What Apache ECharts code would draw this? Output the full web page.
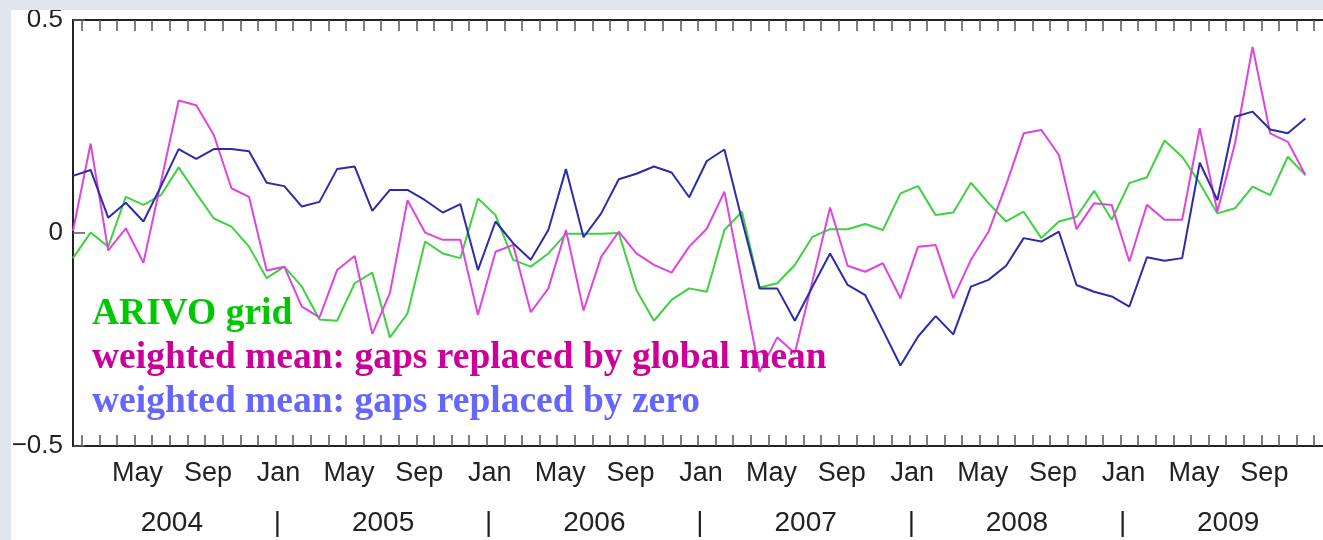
<!DOCTYPE html>
<html>
<head>
<meta charset="utf-8">
<script src="https://cdn.jsdelivr.net/npm/echarts@6/dist/echarts.min.js"></script>
<style>
html,body{margin:0;padding:0;background:#dfe6ee;}
#chart{width:1323px;height:540px;}
</style>
</head>
<body>
<div id="chart"></div>
<script>
// Monthly series, Jan 2004 (index 0) .. Nov 2009 (index 70)
const startYear = 2004;
const monthNames = ['Jan','Feb','Mar','Apr','May','Jun','Jul','Aug','Sep','Oct','Nov','Dec'];
const monthTickLabels = ['May','Sep','Jan'];
const yearLabels = ['2004','2005','2006','2007','2008','2009'];
const yTickValues = [-0.5, 0, 0.5];

const arivoGrid = [
 -0.059, 0.001, -0.032, 0.085, 0.066, 0.089, 0.154, 0.093, 0.034, 0.015, -0.032, -0.106,
 -0.079, -0.126, -0.203, -0.206, -0.118, -0.093, -0.245, -0.189, -0.020, -0.048, -0.059, 0.081,
 0.042, -0.063, -0.079, -0.048, -0.002, -0.002, -0.002, 0.000, -0.134, -0.206, -0.157, -0.130,
 -0.138, 0.007, 0.050, -0.128, -0.118, -0.075, -0.009, 0.009, 0.009, 0.021, 0.007, 0.093,
 0.110, 0.042, 0.048, 0.118, 0.070, 0.027, 0.050, -0.012, 0.027, 0.038, 0.099, 0.031,
 0.117, 0.131, 0.217, 0.179, 0.117, 0.046, 0.058, 0.109, 0.089, 0.179, 0.136
];
const gapsGlobalMean = [
 0.005, 0.210, -0.041, 0.011, -0.070, 0.120, 0.311, 0.300, 0.230, 0.105, 0.085, -0.088,
 -0.079, -0.173, -0.198, -0.087, -0.054, -0.237, -0.141, 0.077, 0.001, -0.016, -0.016, -0.192,
 -0.044, -0.028, -0.186, -0.130, 0.007, -0.182, -0.056, 0.003, -0.048, -0.075, -0.093, -0.032,
 0.010, 0.097, -0.114, -0.326, -0.245, -0.282, -0.113, 0.060, -0.077, -0.091, -0.071, -0.153,
 -0.032, -0.028, -0.153, -0.063, 0.003, 0.113, 0.234, 0.242, 0.183, 0.009, 0.070, 0.066,
 -0.067, 0.066, 0.031, 0.031, 0.246, 0.050, 0.210, 0.437, 0.234, 0.214, 0.136
];
const gapsZero = [
 0.134, 0.148, 0.036, 0.071, 0.027, 0.110, 0.197, 0.174, 0.197, 0.197, 0.192, 0.118,
 0.110, 0.062, 0.073, 0.150, 0.156, 0.052, 0.101, 0.101, 0.077, 0.048, 0.068, -0.087,
 0.027, -0.024, -0.063, 0.007, 0.150, -0.010, 0.046, 0.126, 0.139, 0.156, 0.142, 0.084,
 0.169, 0.196, 0.030, -0.130, -0.130, -0.206, -0.126, -0.048, -0.122, -0.146, -0.228, -0.311,
 -0.243, -0.195, -0.238, -0.126, -0.110, -0.077, -0.012, -0.020, 0.003, -0.122, -0.138, -0.149,
 -0.173, -0.057, -0.065, -0.059, 0.165, 0.077, 0.273, 0.285, 0.243, 0.234, 0.269
];

const seriesNames = ['ARIVO grid', 'weighted mean: gaps replaced by global mean', 'weighted mean: gaps replaced by zero'];
const lineColors = ['#3fd13f', '#de45de', '#2c2ca8'];
const legendColors = ['#00c800', '#cc0099', '#6666ff'];

// axis positions: data point i at x = i (mid-month); month starts at i - 0.5
const nMonths = 72;
const monthStarts = [];
for (let m = 1; m < nMonths; m++) monthStarts.push(m - 0.5);
const labelStarts = monthStarts.filter(v => monthTickLabels.includes(monthNames[(v + 0.5) % 12]));
const yearCenters = yearLabels.map((y, k) => k * 12 + 5.5);
const yearSeps = yearLabels.slice(1).map((y, k) => (k + 1) * 12 - 0.5);
const yearAxisValues = yearCenters.concat(yearSeps).sort((a, b) => a - b);

function toPairs(arr) { return arr.map((v, i) => [i, v]); }

const sansFont = '"Liberation Sans", Arial, sans-serif';
const chart = echarts.init(document.getElementById('chart'), null, {renderer: 'canvas'});

const commonX = {
  type: 'value', min: 0, max: nMonths - 1, gridIndex: 0,
  splitLine: {show: false}
};

chart.setOption({
  backgroundColor: '#ffffff',
  animation: false,
  graphic: [
    {type: 'rect', shape: {x: 0, y: 0, width: 1323, height: 10}, style: {fill: '#dfe6ee'}, z: 100},
    {type: 'rect', shape: {x: 0, y: 0, width: 11, height: 540}, style: {fill: '#dfe6ee'}, z: 100}
  ],
  grid: {left: 73, top: 20, width: 1268, height: 426, containLabel: false},
  legend: {
    orient: 'vertical', left: 87, top: 292, padding: 0, itemGap: 0,
    icon: 'none', itemWidth: 0, itemHeight: 0, selectedMode: false,
    data: seriesNames.map((n, k) => ({
      name: n,
      textStyle: {color: legendColors[k], fontFamily: '"Liberation Serif", "Times New Roman", serif',
        fontWeight: 'bold', fontSize: 37.5, lineHeight: 44}
    }))
  },
  xAxis: [
    Object.assign({}, commonX, {
      position: 'bottom',
      axisLine: {show: true, onZero: false, lineStyle: {color: '#222', width: 2}},
      axisTick: {show: true, inside: true, length: 11, customValues: monthStarts, lineStyle: {color: '#555', width: 1.5}},
      axisLabel: {show: true, customValues: labelStarts, margin: 14, padding: [0, 0, 0, 6],
        formatter: v => monthNames[Math.round(v + 0.5) % 12],
        fontFamily: sansFont, fontSize: 27, color: '#222'}
    }),
    Object.assign({}, commonX, {
      position: 'bottom',
      axisLine: {show: false, onZero: false},
      axisTick: {show: false},
      axisLabel: {show: true, customValues: yearAxisValues, margin: 63, padding: [0, 0, 0, 4],
        formatter: v => (yearSeps.includes(v) ? '|' : yearLabels[Math.round((v - 5.5) / 12)]),
        fontFamily: sansFont, fontSize: 28, color: '#222'}
    }),
    Object.assign({}, commonX, {
      position: 'top',
      axisLine: {show: true, onZero: false, lineStyle: {color: '#222', width: 2}},
      axisTick: {show: true, inside: true, length: 11, customValues: monthStarts, lineStyle: {color: '#555', width: 1.5}},
      axisLabel: {show: false}
    })
  ],
  yAxis: [{
    type: 'value', min: -0.5, max: 0.5, interval: 0.5,
    position: 'left',
    axisLine: {show: true, onZero: false, lineStyle: {color: '#222', width: 2}},
    axisTick: {show: true, inside: true, length: 12, lineStyle: {color: '#555', width: 1.5}},
    splitLine: {show: false},
    axisLabel: {margin: 10, fontFamily: sansFont, fontSize: 26, color: '#222',
      formatter: v => (v === 0 ? '0' : (v < 0 ? '\u2212' : '') + Math.abs(v))}
  }],
  series: [arivoGrid, gapsGlobalMean, gapsZero].map((arr, k) => ({
    name: seriesNames[k],
    type: 'line',
    xAxisIndex: 0, yAxisIndex: 0,
    data: toPairs(arr),
    showSymbol: false, symbol: 'none',
    lineStyle: {color: lineColors[k], width: 2},
    itemStyle: {color: lineColors[k]},
    z: 2 + k
  }))
});
</script>
</body>
</html>
